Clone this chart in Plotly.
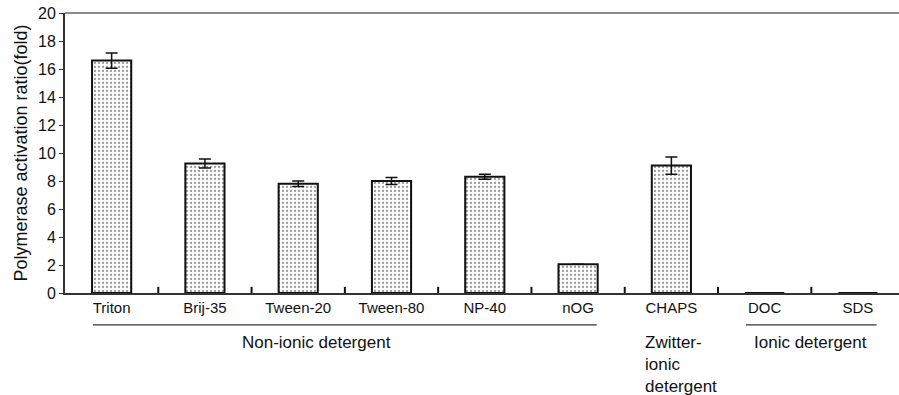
import plotly.graph_objects as go

categories = ["Triton", "Brij-35", "Tween-20", "Tween-80", "NP-40", "nOG", "CHAPS", "DOC", "SDS"]
values = [16.6, 9.25, 7.8, 8.0, 8.3, 2.05, 9.1, 0.0, 0.0]
errors = [0.55, 0.32, 0.2, 0.25, 0.18, None, 0.62, None, None]
yticks = [0, 2, 4, 6, 8, 10, 12, 14, 16, 18, 20]

# groups: (label, first index, last index, label x, label anchor, draw line)
groups = [
    ("Non-ionic detergent", 0, 5, 2.2, "center", True),
    ("Zwitter-<br>ionic<br>detergent", 6, 6, 5.7, "left", False),
    ("Ionic detergent", 7, 8, 6.86, "left", True),
]

FONT = "Liberation Sans, Arial, sans-serif"
XRANGE = [-0.5, 8.44]

fig = go.Figure()
fig.add_trace(go.Bar(
    x=categories, y=values, width=0.42,
    marker=dict(
        color="white",
        line=dict(color="#111", width=2),
        pattern=dict(shape=".", fgcolor="#333", bgcolor="white", size=4, solidity=0.25),
    ),
    error_y=dict(type="data", array=errors, visible=True, color="#111", thickness=1.5, width=6),
    showlegend=False,
))

# category boundary ticks (pointing up from the x axis)
for i in range(len(categories) - 1):
    fig.add_shape(type="line", xref="x", yref="paper", x0=i + 0.5, x1=i + 0.5,
                  y0=0, y1=0.022, line=dict(color="#111", width=2), layer="above")

for label, a, b, lx, anchor, line in groups:
    if line:
        fig.add_shape(type="line", xref="x", yref="paper", x0=a - 0.2, x1=b + 0.2,
                      y0=-0.114, y1=-0.114, line=dict(color="#333", width=1.2))
    fig.add_annotation(x=lx, y=-0.135, xref="x", yref="paper", text=label, showarrow=False,
                       xanchor=anchor, yanchor="top", align="left",
                       font=dict(family=FONT, size=17, color="#111"))

# top border
fig.add_shape(type="line", xref="paper", yref="paper", x0=0, x1=1, y0=1, y1=1,
              line=dict(color="#666", width=1.5))

fig.update_layout(
    width=899, height=395,
    margin=dict(l=65, r=0, t=13, b=102),
    plot_bgcolor="white", paper_bgcolor="white",
    font=dict(family=FONT, size=16, color="#111"),
)
fig.update_xaxes(
    type="category", range=XRANGE,
    showline=True, linecolor="#333", linewidth=2, showgrid=False, zeroline=False,
    ticks="", tickfont=dict(size=15),
)
fig.update_yaxes(
    range=[0, 20], tickvals=yticks, showline=True, linecolor="#333", linewidth=2,
    showgrid=False, zeroline=False, ticks="outside", ticklen=4, tickcolor="#333",
    tickfont=dict(size=16),
    title=dict(text="Polymerase activation ratio(fold)", font=dict(size=18), standoff=6),
)

fig.write_html("out.html")
